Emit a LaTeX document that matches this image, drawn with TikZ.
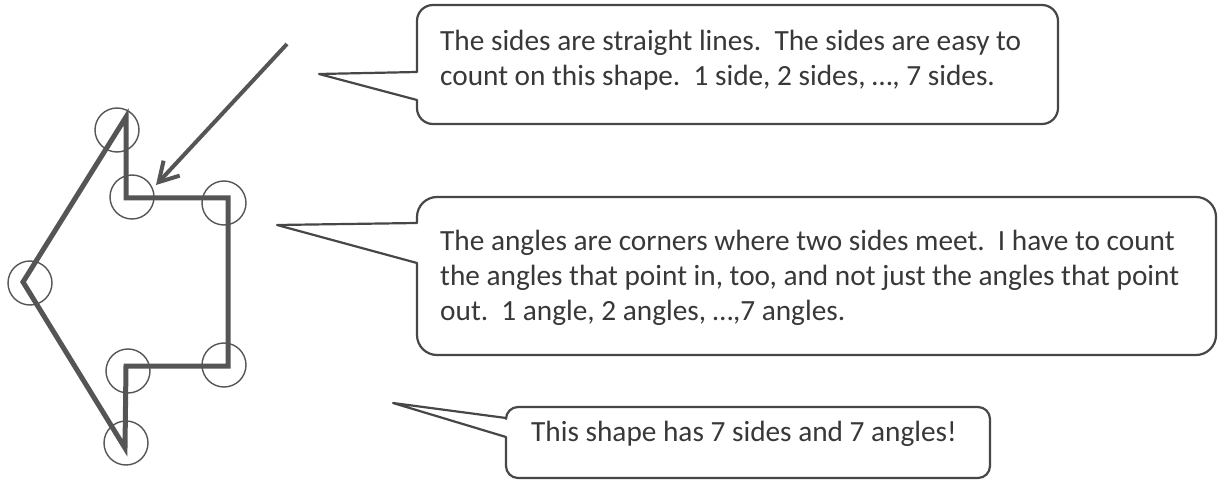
\documentclass[tikz,border=0pt]{standalone}
\usepackage{fontspec}
\setmainfont{Carlito}
\usetikzlibrary{arrows.meta}
\definecolor{ink}{HTML}{555555}
\definecolor{txtc}{HTML}{383838}
\definecolor{edgec}{HTML}{474747}
% #1 left, #2 top, #3 right, #4 bottom, #5 corner radius, #6 upper base, #7 lower base, #8 tip coordinate
\newcommand\speechbubble[8]{%
  \draw[bubble] (#8) -- (#1,#6) -- (#1,#2+#5)
    arc[start angle=180,end angle=270,radius=#5] -- (#3-#5,#2)
    arc[start angle=270,end angle=360,radius=#5] -- (#3,#4-#5)
    arc[start angle=0,end angle=90,radius=#5] -- (#1+#5,#4)
    arc[start angle=90,end angle=180,radius=#5] -- (#1,#7) -- cycle;}
\tikzset{
  vring/.style={circle,draw=ink,line width=1.4pt,minimum size=44pt,inner sep=0pt},
  shapeline/.style={draw=ink,line width=5pt,line join=miter},
  pointer/.style={draw=ink,line width=4pt,-{Straight Barb[length=19pt,width=22pt]}},
  bubble/.style={draw=edgec,line width=2.2pt,line join=round},
  btext/.style={anchor=north west,inner sep=0pt,align=left,text=txtc,font=\fontsize{29.3}{35}\selectfont}
}
\begin{document}
\begin{tikzpicture}[x=1pt,y=-1pt]
\useasboundingbox (0,0) rectangle (1219,481);
% angle rings
\node[vring] (r1) at (117,130) {};
\node[vring] (r2) at (132,197) {};
\node[vring] (r3) at (224,203) {};
\node[vring] (r4) at (30,283) {};
\node[vring] (r5) at (128,371) {};
\node[vring] (r6) at (224,365) {};
\node[vring] (r7) at (126,443) {};
% polygon vertices
\coordinate (pa) at (126,117);
\coordinate (pb) at (126,198);
\coordinate (pc) at (228,198);
\coordinate (pd) at (228,366);
\coordinate (pe) at (126,366);
\coordinate (pf) at (125,448);
\coordinate (pg) at (23,282);
\draw[shapeline] (pa) -- (pb) -- (pc) -- (pd) -- (pe) -- (pf) -- (pg) -- cycle;
% arrow
\coordinate (arrowfrom) at (287,44);
\coordinate (arrowto) at (156,185);
\draw[pointer] (arrowfrom) -- (arrowto);
% callouts
\coordinate (tip1) at (319,74);
\coordinate (tip2) at (277,225);
\coordinate (tip3) at (393,403);
\speechbubble{417}{5}{1058}{124}{16}{72}{100}{tip1}
\speechbubble{417}{197}{1216}{355}{20}{223}{263}{tip2}
\speechbubble{506}{407}{990}{478}{12}{418}{437}{tip3}
\node[btext] (t1) at (440,30) {The sides are straight lines.\ \ The sides are easy to\\count on this shape.\ \ 1 side, 2 sides, \dots, 7 sides.};
\node[btext] (t2) at (440,230) {The angles are corners where two sides meet.\ \ I have to count\\the angles that point in, too, and not just the angles that point\\out.\ \ 1 angle, 2 angles, \dots,7 angles.};
\node[btext] (t3) at (531,421) {This shape has 7 sides and 7 angles!};
\end{tikzpicture}
\end{document}
